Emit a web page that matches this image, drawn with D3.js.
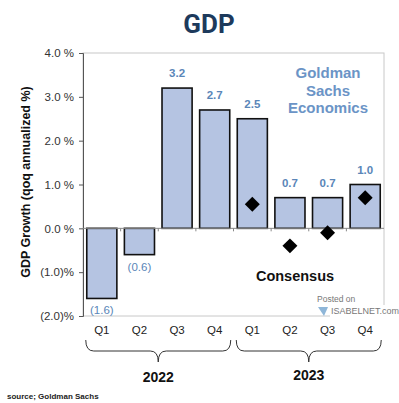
<!DOCTYPE html>
<html><head><meta charset="utf-8">
<script src="https://cdn.jsdelivr.net/npm/d3@7"></script>
<style>body{margin:0;background:#fff;}svg{display:block;font-family:"Liberation Sans",Arial,sans-serif;}</style>
</head><body>
<script>
const quarters = ["Q1","Q2","Q3","Q4","Q1","Q2","Q3","Q4"];
const years = ["2022","2023"];
const gsValues = [-1.6,-0.6,3.2,2.7,2.5,0.7,0.7,1.0];
const gsLabels = ["(1.6)","(0.6)","3.2","2.7","2.5","0.7","0.7","1.0"];
const consensus = [null,null,null,null,0.55,-0.4,-0.1,0.7];
const yTicks = [4,3,2,1,0,-1,-2];
const yTickLabels = ["4.0 %","3.0 %","2.0 %","1.0 %","0.0 %","(1.0)%","(2.0)%"];

const W=399,H=403;
const svg=d3.select("body").append("svg").attr("width",W).attr("height",H);
const L=83,R=384,T=53,B=316;
const x=d3.scaleBand().domain(d3.range(8)).range([L,R]).paddingInner(0.2).paddingOuter(0.1);
const y=d3.scaleLinear().domain([-2,4]).range([B,T]);

// title
svg.append("text").attr("x",209).attr("y",33).attr("text-anchor","middle")
 .attr("font-family","Roboto, 'Liberation Sans', sans-serif").attr("font-weight","bold").attr("font-size",26)
 .attr("fill","#1d3a5c").text("GDP");

// plot frame
svg.append("rect").attr("x",L).attr("y",T).attr("width",R-L).attr("height",B-T)
 .attr("fill","none").attr("stroke","#c8c8c8").attr("stroke-width",1);

// y axis
const yAxis=d3.axisLeft(y).tickValues(yTicks).tickFormat((d,i)=>yTickLabels[i]).tickSize(4).tickPadding(5);
const ga=svg.append("g").attr("transform",`translate(${L},0)`).call(yAxis);
ga.select(".domain").attr("stroke","#555");
ga.selectAll(".tick line").attr("stroke","#555");
ga.selectAll(".tick text").attr("font-size",11.5).attr("fill","#333").attr("font-family","'Liberation Sans',Arial,sans-serif");

// y label
svg.append("text").attr("transform","translate(30,182) rotate(-90)").attr("text-anchor","middle")
 .attr("font-weight","bold").attr("font-size",12.5).attr("fill","#111").text("GDP Growth (qoq annualized %)");

// bars
svg.selectAll("rect.bar").data(gsValues).join("rect").attr("class","bar")
 .attr("x",(d,i)=>x(i)).attr("width",x.bandwidth())
 .attr("y",d=>y(Math.max(0,d))).attr("height",d=>Math.abs(y(d)-y(0)))
 .attr("fill","#b5c4e2").attr("stroke","#111").attr("stroke-width",1.6);

// zero line
svg.append("line").attr("x1",L).attr("x2",R).attr("y1",y(0)).attr("y2",y(0)).attr("stroke","#888").attr("stroke-width",1);
// small category ticks at zero line
svg.selectAll("line.ct").data(d3.range(1,8)).join("line").attr("class","ct")
 .attr("x1",i=>x(i)-x.step()*0.1).attr("x2",i=>x(i)-x.step()*0.1)
 .attr("y1",y(0)).attr("y2",y(0)+3).attr("stroke","#888");

// value labels
svg.selectAll("text.val").data(gsValues).join("text").attr("class","val")
 .attr("x",(d,i)=>x(i)+x.bandwidth()/2)
 .attr("y",d=>d>=0?y(d)-11:y(d)+16)
 .attr("text-anchor","middle").attr("font-size",11.5).attr("font-weight",(d)=>d>=0?"bold":"normal")
 .attr("fill","#5a86b8").text((d,i)=>gsLabels[i]);

// consensus diamonds
svg.selectAll("path.cons").data(consensus.map((v,i)=>({v,i})).filter(d=>d.v!==null)).join("path").attr("class","cons")
 .attr("d",d3.symbol().type(d3.symbolSquare).size(112))
 .attr("transform",d=>`translate(${x(d.i)+x.bandwidth()/2},${y(d.v)}) rotate(45)`)
 .attr("fill","#000");

// annotations
const gs=svg.append("text").attr("text-anchor","middle").attr("font-weight","bold").attr("font-size",15).attr("fill","#6b94c6");
["Goldman","Sachs","Economics"].forEach((t,i)=>gs.append("tspan").attr("x",328).attr("y",78+i*17.5).text(t));
svg.append("text").attr("x",295).attr("y",281).attr("text-anchor","middle").attr("font-weight","bold").attr("font-size",14.5).attr("fill","#111").text("Consensus");
svg.append("rect").attr("x",330).attr("y",305).attr("width",66).attr("height",13).attr("fill","#fff");
svg.append("text").attr("x",317).attr("y",302).attr("font-size",8.5).attr("fill","#777").text("Posted on");
svg.append("path").attr("d","M318,307 l10,0 l-4,9 z").attr("fill","#8fb6d8");
svg.append("text").attr("x",331).attr("y",314).attr("font-size",9).attr("fill","#777").text("ISABELNET.com");

// x labels
svg.selectAll("text.q").data(quarters).join("text").attr("class","q")
 .attr("x",(d,i)=>x(i)+x.bandwidth()/2).attr("y",334).attr("text-anchor","middle")
 .attr("font-size",11.5).attr("fill","#222").text(d=>d);

// braces
function brace(x1,x2,yTop,depth){
  const m=(x1+x2)/2, h=depth/2;
  return `M${x1},${yTop} Q${x1},${yTop+h} ${x1+8},${yTop+h} L${m-8},${yTop+h} Q${m},${yTop+h} ${m},${yTop+depth} Q${m},${yTop+h} ${m+8},${yTop+h} L${x2-8},${yTop+h} Q${x2},${yTop+h} ${x2},${yTop+0}`;
}
const groups=[[0,3],[4,7]];
groups.forEach((g,k)=>{
  const x1=x(g[0])-1, x2=x(g[1])+x.bandwidth()+1;
  svg.append("path").attr("d",brace(x1,x2,340,22)).attr("fill","none").attr("stroke","#333").attr("stroke-width",1);
  svg.append("text").attr("x",(x1+x2)/2).attr("y",k===0?382:380).attr("text-anchor","middle")
   .attr("font-weight","bold").attr("font-size",14).attr("fill","#111").text(years[k]);
});

svg.append("text").attr("x",7).attr("y",399).attr("font-weight","bold").attr("font-size",8).attr("fill","#222").text("source; Goldman Sachs");
</script>
</body></html>
